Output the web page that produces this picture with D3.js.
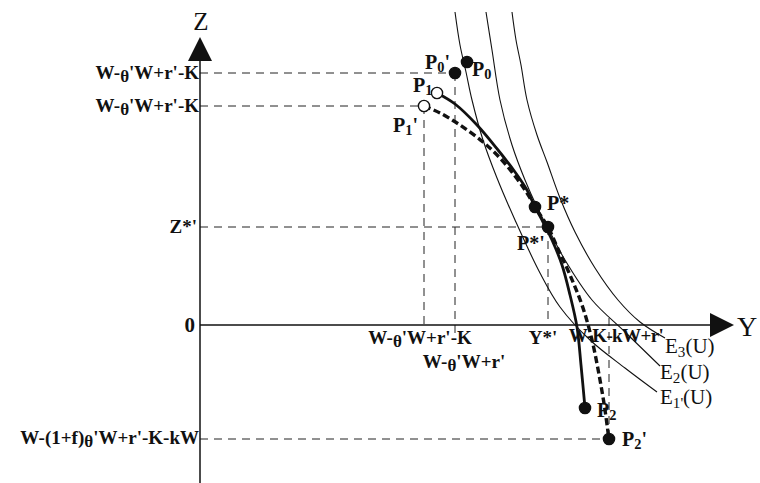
<!DOCTYPE html>
<html><head><meta charset="utf-8">
<script src="https://cdn.jsdelivr.net/npm/d3@7"></script>
<style>body{margin:0;background:#fff}svg{display:block}</style>
</head><body><svg id="c" width="760" height="483"></svg>
<script>
// ---- data (diagram units: origin at the axes crossing, Y to the right, Z upward)
const pointNames  = ["P_0", "P_0'", "P_1", "P_1'", "P*", "P*'", "P_2", "P_2'"];
const pointY      = [267, 255, 237, 224, 335, 348, 385, 409];
const pointZ      = [263, 252, 232, 219, 118,  98, -83, -114];
const pointFilled = [true, true, false, false, true, true, true, true];

const curveE1Y = [255,260,266,272,283,297,315,340,360,390,425,457];
const curveE1Z = [313,280,253,225,185,147,105, 52, 18,-15,-43,-67];
const curveE2Y = [286,292,300,312,325,337,350,365,392,425,460];
const curveE2Z = [313,275,225,180,145,118, 93, 65, 25, -7,-41];
const curveE3Y = [312,316,321,327,337,347,360,375,395,418,440,465];
const curveE3Z = [313,285,260,225,190,163,127, 93, 57, 25,  3,-13];
const curveNames = ["E_3(U)", "E_2(U)", "E_{1'}(U)"];

const solidY = [237,255,277,298,315,327,335,343,352,362,370,377,381,385];
const solidZ = [232,221,200,175,153,135,118,103, 85, 60, 30, -2,-40,-83];
const dashY  = [224,240,260,283,300,315,327,337,348,358,370,382,392,400,405,409];
const dashZ  = [219,212,200,183,167,149,132,115, 98, 76, 50, 20,-15,-55,-85,-115];

const zTickLabels = ["W-~{θ}'W+r'-K", "W-~{θ}'W+r'-K", "Z*'", "0", "W-(1+f)~{θ}'W+r'-K-kW"];
const zTickValues = [252, 219, 98, 0, -114];
const yTickLabels = ["W-~{θ}'W+r'-K", "W-~{θ}'W+r'", "Y*'", "W-K-kW+r'"];
const yTickValues = [224, 255, 348, 409];

// ---- layout
const svg = d3.select("#c");
const x = d3.scaleLinear().domain([0, 510]).range([200, 710]);
const z = d3.scaleLinear().domain([0, 325]).range([325, 0]);
const serif = "'Liberation Serif','Times New Roman',serif";

function rich(t, str, size) {
  const re = /([_~])\{([^}]*)\}|_(.)|([^_~]+)/g;
  let m, cur = 0;
  while ((m = re.exec(str))) {
    if (m[4] !== undefined) {
      t.append("tspan").attr("dy", 0 - cur).text(m[4]);
      cur = 0;
    } else {
      const mark = m[1] || "_";
      const txt = m[2] !== undefined ? m[2] : m[3];
      const s = mark === "~" ? size * 0.12 : size * 0.18;
      const fs = mark === "~" ? size * 0.9 : size * 0.72;
      t.append("tspan").attr("font-size", fs).attr("dy", s - cur).text(txt);
      cur = s;
    }
  }
}
function label(px, py, str, opt) {
  const size = opt.size || 19;
  const t = svg.append("text")
    .attr("x", px).attr("y", py + size * 0.34)
    .attr("font-family", serif)
    .attr("font-size", size)
    .attr("font-weight", opt.bold ? "bold" : "normal")
    .attr("text-anchor", opt.anchor || "start")
    .attr("fill", "#111");
  if (opt.ls) t.attr("letter-spacing", opt.ls);
  rich(t, str, size);
  return t;
}

// guide dashed lines
const guide = svg.append("g").attr("stroke", "#222").attr("stroke-width", 1)
  .attr("stroke-dasharray", "8 6").attr("fill", "none");
[[252, 255], [219, 224], [98, 348], [-114, 409]].forEach(([zz, yy]) =>
  guide.append("line").attr("x1", x(0)).attr("x2", x(yy)).attr("y1", z(zz)).attr("y2", z(zz)));
[[224, 219, 0], [255, 252, -14], [348, 98, 0], [409, 7, -114]].forEach(([yy, z1, z2]) =>
  guide.append("line").attr("x1", x(yy)).attr("x2", x(yy)).attr("y1", z(z1)).attr("y2", z(z2)));

// axes
svg.append("line").attr("x1", x(0)).attr("x2", x(0)).attr("y1", z(265)).attr("y2", 483)
  .attr("stroke", "#111").attr("stroke-width", 1.5);
svg.append("line").attr("x1", x(0)).attr("x2", x(510)).attr("y1", z(0)).attr("y2", z(0))
  .attr("stroke", "#111").attr("stroke-width", 1.5);
svg.append("path").attr("d", `M${x(0)},37 L${x(0)-12},61 L${x(0)+12},61 Z`).attr("fill", "#111");
svg.append("path").attr("d", `M734,${z(0)} L710,${z(0)-12} L710,${z(0)+12} Z`).attr("fill", "#111");
label(201, 21, "Z", {size: 25, anchor: "middle"});
label(747, 326, "Y", {size: 28, anchor: "middle"});

// indifference curves
const line = d3.line().x(d => x(d[0])).y(d => z(d[1])).curve(d3.curveCatmullRom.alpha(0.5));
const zip = (a, b) => a.map((v, i) => [v, b[i]]);
[[curveE1Y, curveE1Z], [curveE2Y, curveE2Z], [curveE3Y, curveE3Z]].forEach(([a, b]) =>
  svg.append("path").attr("d", line(zip(a, b))).attr("fill", "none")
    .attr("stroke", "#111").attr("stroke-width", 1.1));

// thick curves
svg.append("path").attr("d", line(zip(dashY, dashZ))).attr("fill", "none")
  .attr("stroke", "#111").attr("stroke-width", 3.4).attr("stroke-dasharray", "7 3.5");
svg.append("path").attr("d", line(zip(solidY, solidZ))).attr("fill", "none")
  .attr("stroke", "#111").attr("stroke-width", 2.8);

// points
pointNames.forEach((n, i) => {
  svg.append("circle").attr("cx", x(pointY[i])).attr("cy", z(pointZ[i])).attr("r", 5.6)
    .attr("fill", pointFilled[i] ? "#111" : "#fff").attr("stroke", "#111").attr("stroke-width", 1.4);
});
const pointLabelOffset = [[5, 7], [-30, -11], [-24, -8], [-31, 19], [12, -4], [-31, 16], [12, 2], [13, 0]];
pointNames.forEach((n, i) => {
  const [dx, dy] = pointLabelOffset[i];
  label(x(pointY[i]) + dx, z(pointZ[i]) + dy, n, {size: 20, bold: true});
});

// curve labels
const curveLabelPos = [[665, 346], [660, 372], [660, 397]];
curveNames.forEach((n, i) => label(curveLabelPos[i][0], curveLabelPos[i][1], n, {size: 21}));

// Z axis tick labels
zTickLabels.forEach((s, i) => {
  const dx = i === 3 ? -5 : i === 2 ? -3 : -1;
  label(x(0) + dx, z(zTickValues[i]) + (i === 4 ? -1 : 0), s,
        {size: i === 3 ? 21 : 19, bold: true, anchor: "end"});
});
// Y axis tick labels
const yLabelDx = [-4, 9, -5, 7], yLabelRow = [338, 362, 338, 336];
yTickLabels.forEach((s, i) => {
  label(x(yTickValues[i]) + yLabelDx[i], yLabelRow[i], s,
        {size: 19, bold: true, anchor: "middle", ls: i === 3 ? -0.6 : 0});
});
</script></body></html>
